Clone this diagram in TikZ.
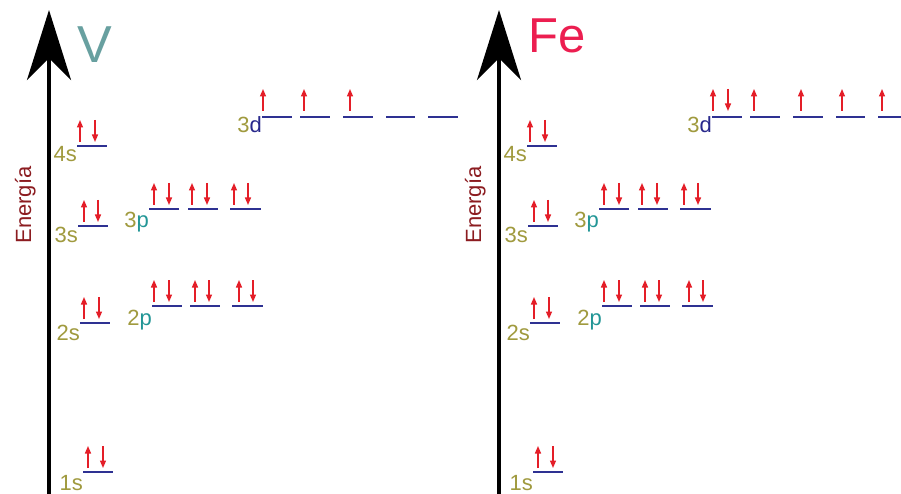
\documentclass[tikz,border=0pt]{standalone}
\usepackage{fontspec}
\setmainfont{Liberation Sans}
\usetikzlibrary{arrows.meta}
\definecolor{lvlblue}{RGB}{46,49,146}
\definecolor{spinred}{RGB}{228,30,40}
\definecolor{numolive}{RGB}{160,154,62}
\definecolor{pteal}{RGB}{34,150,150}
\definecolor{ddark}{RGB}{40,40,140}
\definecolor{enred}{RGB}{140,28,32}
\definecolor{vteal}{RGB}{104,160,160}
\definecolor{fepink}{RGB}{236,30,80}

% Common part of one energy diagram: axis, s, p and empty d levels
\newcommand{\orbitalpanel}[1]{%
  \coordinate (#1-bot) at (49,494);
  \coordinate (#1-top) at (49,10);
  \draw[axisline] (#1-bot) -- (#1-top);
  \node[energylabel] (#1-en) at (31,205) {Energía};
  % s orbitals: start / end / height / up spin / down spin / label drop / shell
  \foreach \xa/\xb/\yy/\ua/\da/\dl/\n in
    {83/113/472/88/103/18/1, 80/110/323/84/99/17/2, 78/108/226/84/98/17/3, 77/107/146/80/95/16/4}{
    \draw[level] (\xa,\yy) -- (\xb,\yy);
    \draw[spinarrow] (\ua,\yy-4) -- (\ua,\yy-26);
    \draw[spinarrow] (\da,\yy-26) -- (\da,\yy-4);
    \node[orblabel] (#1-s\n) at (\xa,\yy+\dl) {\textcolor{numolive}{\n s}};
  }
  % 2p orbitals
  \foreach \xa/\xb/\ua/\da in {152/182/154/169, 190/220/195/209, 232/263/239/253}{
    \draw[level] (\xa,306) -- (\xb,306);
    \draw[spinarrow] (\ua,302) -- (\ua,280);
    \draw[spinarrow] (\da,280) -- (\da,302);
  }
  \node[orblabel] (#1-p2) at (152,325) {\textcolor{numolive}{2}\textcolor{pteal}{p}};
  % 3p orbitals
  \foreach \xa/\xb/\ua/\da in {149/179/154/169, 188/218/192/207, 230/261/234/248}{
    \draw[level] (\xa,209) -- (\xb,209);
    \draw[spinarrow] (\ua,205) -- (\ua,183);
    \draw[spinarrow] (\da,183) -- (\da,205);
  }
  \node[orblabel] (#1-p3) at (149,227) {\textcolor{numolive}{3}\textcolor{pteal}{p}};
  % 3d orbitals
  \foreach \xa/\xb in {262/292, 300/330, 343/373, 386/415, 428/458}{
    \draw[level] (\xa,117) -- (\xb,117);
  }
  \node[orblabel] (#1-d3) at (262,133) {\textcolor{numolive}{3}\textcolor{ddark}{d}};
}

\begin{document}
\begin{tikzpicture}[x=1pt,y=-1pt,
  level/.style={draw=lvlblue, line width=2pt},
  spinarrow/.style={draw=spinred, line width=1.4pt, -{Triangle[length=7.5pt,width=6pt]}},
  orblabel/.style={anchor=base east, inner sep=0pt, font=\fontsize{22}{22}\selectfont},
  energylabel/.style={anchor=base, rotate=90, inner sep=0pt, text=enred, font=\fontsize{22}{22}\selectfont},
  axisline/.style={line width=4pt, -{Stealth[length=70pt,width=44pt,inset=22pt]}},
  symbol/.style={anchor=base west, inner sep=0pt, font=\fontsize{52}{52}\selectfont}]
\useasboundingbox (0,0) rectangle (901,494);
\fill[white] (0,0) rectangle (901,494);

% Vanadium
\begin{scope}
  \orbitalpanel{v}
  \node[symbol, text=vteal] (v-sym) at (77,63) {V};
  \foreach \ax in {263, 304, 350}{
    \draw[spinarrow] (\ax,111) -- (\ax,89);
  }
\end{scope}

% Iron
\begin{scope}[xshift=450pt]
  \orbitalpanel{fe}
  \node[symbol, text=fepink, font=\fontsize{49}{49}\selectfont] (fe-sym) at (78,53) {Fe};
  \draw[spinarrow] (278,89) -- (278,111);
  \foreach \ax in {263, 304, 351, 392, 432}{
    \draw[spinarrow] (\ax,111) -- (\ax,89);
  }
\end{scope}
\end{tikzpicture}
\end{document}
